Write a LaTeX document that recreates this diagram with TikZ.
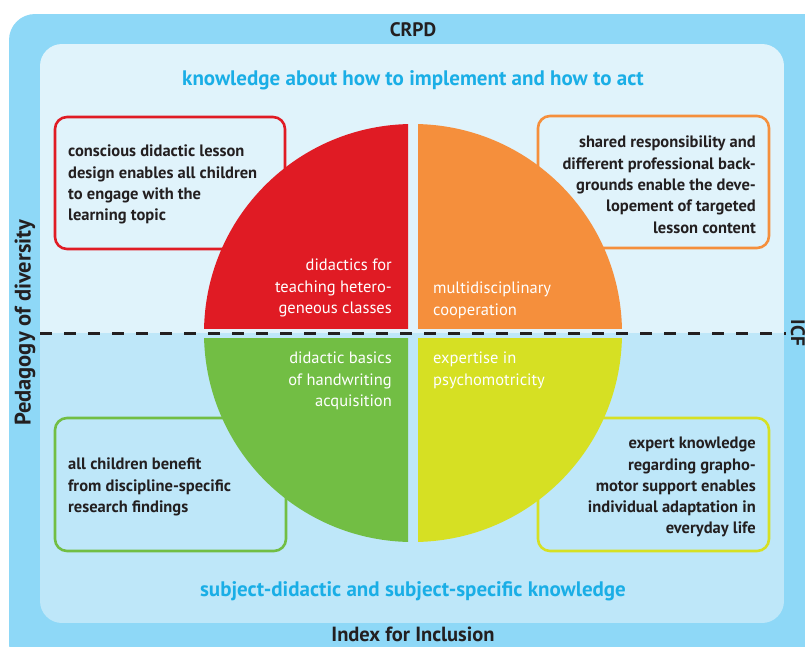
\documentclass[tikz,border=0pt]{standalone}
\usepackage{fontspec}
\setmainfont{PT Sans}
\definecolor{outerblue}{HTML}{8ED8F7}
\definecolor{innertop}{HTML}{E0F3FB}
\definecolor{innerbot}{HTML}{BEE7F9}
\definecolor{qred}{HTML}{E01B24}
\definecolor{qorange}{HTML}{F58F3C}
\definecolor{qgreen}{HTML}{72BE44}
\definecolor{qyellow}{HTML}{D6E023}
\definecolor{titlecyan}{HTML}{1AAEE6}
\definecolor{darktext}{HTML}{231F20}
\tikzset{
  infobox/.style={line width=2.6pt, rounded corners=12pt},
  boxtext/.style={inner sep=0pt, font=\fontsize{16.5}{21.3}\selectfont\bfseries, text=darktext},
  quadtext/.style={inner sep=0pt, font=\fontsize{16.5}{21.3}\selectfont, text=white},
  paneltitle/.style={inner sep=0pt, font=\fontsize{21}{24}\selectfont\bfseries, text=titlecyan},
  frametitle/.style={inner sep=0pt, font=\fontsize{19.5}{22}\selectfont\bfseries, text=darktext},
}
\begin{document}
\begin{tikzpicture}[x=1pt,y=-1pt]
\useasboundingbox (0,0) rectangle (805,646);
\clip (0,0) rectangle (805,646);
% outer frame
\fill[outerblue, rounded corners=26pt] (9,14) rectangle (830,670);
% inner panel
\begin{scope}
  \clip[rounded corners=22pt] (40,44) rectangle (784,623);
  \fill[innertop] (40,44) rectangle (784,333);
  \fill[innerbot] (40,333) rectangle (784,623);
\end{scope}
% info boxes
\draw[infobox, qred] (55,117) rectangle (285,249);
\draw[infobox, qorange] (538,116) rectangle (769,248);
\draw[infobox, qgreen] (55,418) rectangle (286,551);
\draw[infobox, qyellow] (538,418) rectangle (769,551);
% quadrants
\coordinate (c) at (413,333);
\begin{scope}
  \clip (0,0) rectangle (408,328);
  \fill[qred] (c) circle (209);
\end{scope}
\begin{scope}
  \clip (418,0) rectangle (805,328);
  \fill[qorange] (c) circle (209);
\end{scope}
\begin{scope}
  \clip (0,338) rectangle (408,646);
  \fill[qgreen] (c) circle (209);
\end{scope}
\begin{scope}
  \clip (418,338) rectangle (805,646);
  \fill[qyellow] (c) circle (209);
\end{scope}
% dashed line
\coordinate (dl) at (40,333);
\coordinate (dr) at (786,333);
\draw[darktext, line width=3pt, dash pattern=on 12pt off 12pt] (dl) -- (dr);
% frame labels
\node[frametitle] (crpd) at (413,30) {CRPD};
\node[frametitle, font=\fontsize{20.5}{22}\selectfont\bfseries] (index) at (413,634) {Index for Inclusion};
\node[frametitle, font=\fontsize{22.5}{24}\selectfont\bfseries, rotate=90] (pedagogy) at (25,323) {Pedagogy of diversity};
\node[frametitle, rotate=-90] (icf) at (798,333) {ICF};
% panel titles
\node[paneltitle] (ktop) at (413,80) {knowledge about how to implement and how to act};
\node[paneltitle] (kbot) at (413,591) {subject-didactic and subject-specific knowledge};
% box texts
\node[boxtext, anchor=north west, align=left] (tred) at (68,145) {conscious didactic lesson\\design enables all children\\to engage with the\\learning topic};
\node[boxtext, anchor=north east, align=right] (torange) at (756,136) {shared responsibility and\\different professional back-\\grounds enable the deve-\\lopement of targeted\\lesson content};
\node[boxtext, anchor=north west, align=left] (tgreen) at (68,458) {all children benefit\\from discipline-specific\\research findings};
\node[boxtext, anchor=north east, align=right] (tyellow) at (756,437) {expert knowledge\\regarding grapho-\\motor support enables\\individual adaptation in\\everyday life};
% quadrant texts
\node[quadtext, anchor=north east, align=right] (qr) at (392,259) {didactics for\\teaching hetero-\\geneous classes};
\node[quadtext, anchor=north west, align=left] (qo) at (433,282) {multidisciplinary\\cooperation};
\node[quadtext, anchor=north east, align=right] (qg) at (392,352) {didactic basics\\of handwriting\\acquisition};
\node[quadtext, anchor=north west, align=left] (qy) at (433,352) {expertise in\\psychomotricity};
\end{tikzpicture}
\end{document}
